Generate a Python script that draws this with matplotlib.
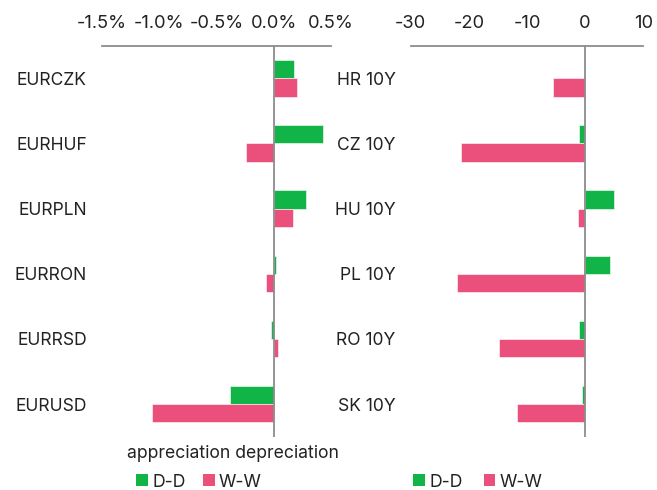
import matplotlib
matplotlib.use("Agg")
import matplotlib.pyplot as plt
import numpy as np
from matplotlib.patches import Patch

plt.rcParams['font.family'] = ['Inter', 'DejaVu Sans']

fx_labels = ["EURCZK", "EURHUF", "EURPLN", "EURRON", "EURRSD", "EURUSD"]
fx_dd = [0.18, 0.43, 0.28, 0.02, -0.025, -0.38]
fx_ww = [0.20, -0.24, 0.17, -0.065, 0.04, -1.06]
fx_ticks = [-1.5, -1.0, -0.5, 0.0, 0.5]
fx_ticklabels = ["-1.5%", "-1.0%", "-0.5%", "0.0%", "0.5%"]

bond_labels = ["HR 10Y", "CZ 10Y", "HU 10Y", "PL 10Y", "RO 10Y", "SK 10Y"]
bond_dd = [0.0, -1.1, 4.9, 4.2, -1.0, -0.5]
bond_ww = [-5.6, -21.4, -1.3, -22.1, -14.9, -11.7]
bond_ticks = [-30, -20, -10, 0, 10]
bond_ticklabels = ["-30", "-20", "-10", "0", "10"]

GREEN = "#10B447"
PINK = "#EB4F7C"
GRAY = "#8C8C8C"
TXT = "#222222"

fig = plt.figure(figsize=(6.57, 4.9), dpi=100)
ax1 = fig.add_axes([0.1553, 0.1088, 0.3485, 0.7979])
ax2 = fig.add_axes([0.6251, 0.1088, 0.3541, 0.7979])

def draw(ax, labels, dd, ww, ticks, ticklabels, xlim):
    y = np.arange(len(labels))
    h = 0.28
    ax.barh(y - h / 2, dd, height=h, color=GREEN, edgecolor="white", linewidth=0.4)
    ax.barh(y + h / 2, ww, height=h, color=PINK, edgecolor="white", linewidth=0.4)
    ax.set_xlim(*xlim)
    ax.set_ylim(5.5, -0.5)
    ax.axvline(0, color=GRAY, linewidth=1.3, zorder=3)
    for s in ["left", "right", "bottom"]:
        ax.spines[s].set_visible(False)
    ax.spines["top"].set_color(GRAY)
    ax.spines["top"].set_linewidth(1.3)
    ax.xaxis.tick_top()
    ax.set_xticks(ticks)
    ax.set_xticklabels(ticklabels, fontsize=13.2, color=TXT)
    ax.tick_params(axis="x", length=0, pad=10)
    ax.set_yticks(y)
    ax.set_yticklabels(labels, fontsize=12.6, color=TXT)
    ax.tick_params(axis="y", length=0, pad=11)
    ax.set_facecolor("none")

draw(ax1, fx_labels, fx_dd, fx_ww, fx_ticks, fx_ticklabels, (-1.5, 0.5))
draw(ax2, bond_labels, bond_dd, bond_ww, bond_ticks, bond_ticklabels, (-30, 10))

fig.text(233 / 657, 1 - 453 / 490, "appreciation depreciation", ha="center", va="center",
         fontsize=12.7, color=TXT)

handles = [Patch(facecolor=GREEN, label="D-D"), Patch(facecolor=PINK, label="W-W")]
fig.legend(handles=handles, loc="center", bbox_to_anchor=(199 / 657, 1 - 482 / 490),
           ncol=2, frameon=False, fontsize=12.7, handlelength=0.65, handleheight=0.65,
           handletextpad=0.25, columnspacing=1.0, labelcolor=TXT)
fig.legend(handles=handles, loc="center", bbox_to_anchor=(478 / 657, 1 - 482 / 490),
           ncol=2, frameon=False, fontsize=12.7, handlelength=0.65, handleheight=0.65,
           handletextpad=0.25, columnspacing=1.2, labelcolor=TXT)

fig.savefig("out.png", dpi=100)
